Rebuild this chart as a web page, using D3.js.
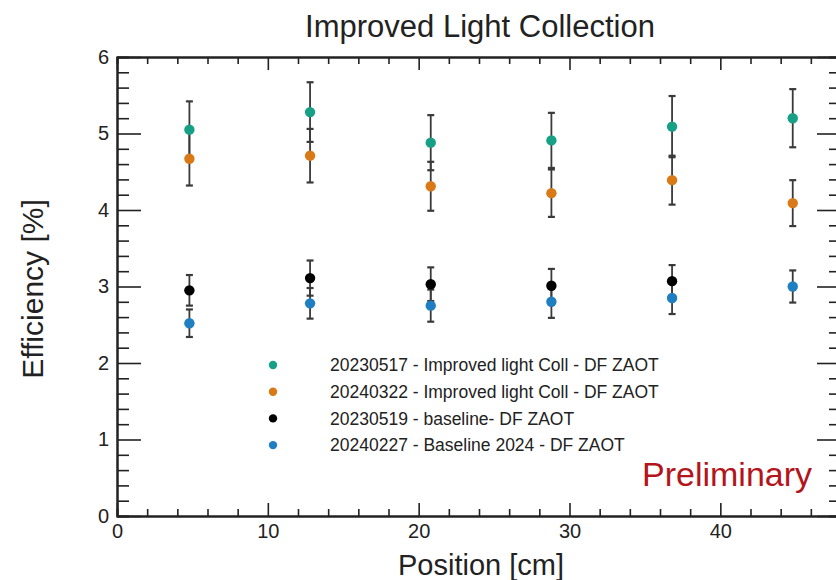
<!DOCTYPE html>
<html lang="en">

<head>
    <meta charset="UTF-8">
    <title>Improved Light Collection</title>
    <script src="https://d3js.org/d3.v7.min.js"></script>
    <style>
        body {
            margin: 0;
            background: #fff;
        }

        svg {
            display: block;
            font-family: "Liberation Sans", Arial, Helvetica, sans-serif;
        }

        .axis path {
            stroke: #222;
            stroke-width: 2;
        }

        .axis line {
            stroke: #222;
            stroke-width: 1.6;
        }

        .axis text {
            font-size: 20px;
            fill: #222;
        }
    </style>
</head>

<body>
    <script>
        // values
        var positions = [4.8, 12.8, 20.8, 28.8, 36.8, 44.8];
        var seriesNames = [
            '20230517 - Improved light Coll - DF ZAOT',
            '20240322 - Improved light Coll - DF ZAOT',
            '20230519 - baseline- DF ZAOT',
            '20240227 - Baseline 2024 - DF ZAOT'
        ];
        var seriesColors = ['#17a085', '#d97a17', '#000000', '#1f7fc0'];
        var improved2023 = [5.05, 5.28, 4.88, 4.91, 5.09, 5.20];
        var improved2023Err = [0.37, 0.39, 0.36, 0.36, 0.40, 0.38];
        var improved2024 = [4.67, 4.71, 4.31, 4.22, 4.39, 4.09];
        var improved2024Err = [0.35, 0.35, 0.32, 0.31, 0.32, 0.30];
        var baseline2023 = [2.95, 3.11, 3.03, 3.01, 3.07];
        var baseline2023Err = [0.20, 0.23, 0.22, 0.22, 0.21];
        var baseline2024 = [2.52, 2.78, 2.75, 2.80, 2.85, 3.00];
        var baseline2024Err = [0.18, 0.20, 0.21, 0.21, 0.21, 0.21];
        var xMajor = [0, 10, 20, 30, 40];
        var yMajor = [0, 1, 2, 3, 4, 5, 6];

        var width = 836;
        var height = 580;
        // plot frame edges (the right edge sits just past the window)
        var frameLeft = 117, frameRight = 841, frameTop = 57, frameBottom = 516;

        var svg = d3.select('body')
            .append('svg')
            .attr('width', width)
            .attr('height', height);

        var x = d3.scaleLinear().domain([0, 48]).range([frameLeft, frameRight]);
        var y = d3.scaleLinear().domain([0, 6]).range([frameBottom, frameTop]);

        var xMinor = d3.range(0, 48.01, 2).filter(function (v) { return v % 10 != 0; });
        var yMinor = d3.range(0, 6.01, 0.2).map(function (v) { return +v.toFixed(1); })
            .filter(function (v) { return Math.abs(v - Math.round(v)) > 0.01; });

        // frame with ticks pointing inward on all four sides
        function drawAxis(axisFn, scale, major, minor, majorLen, minorLen, labels, transform) {
            svg.append('g').attr('class', 'axis').attr('transform', transform)
                .call(axisFn(scale).tickValues(minor).tickSize(-minorLen).tickFormat(''));
            return svg.append('g').attr('class', 'axis').attr('transform', transform)
                .call(axisFn(scale).tickValues(major).tickSize(-majorLen).tickSizeOuter(0)
                    .tickPadding(8).tickFormat(labels ? d3.format('d') : ''));
        }

        drawAxis(d3.axisBottom, x, xMajor, xMinor, 13, 7, true, 'translate(0,' + frameBottom + ')');
        drawAxis(d3.axisTop, x, xMajor, xMinor, 13, 7, false, 'translate(0,' + frameTop + ')');
        drawAxis(d3.axisLeft, y, yMajor, yMinor, 24, 12, true, 'translate(' + frameLeft + ',0)');
        drawAxis(d3.axisRight, y, yMajor, yMinor, 24, 12, false, 'translate(' + frameRight + ',0)');

        // titles
        svg.append('text')
            .attr('x', 480)
            .attr('y', 37)
            .attr('text-anchor', 'middle')
            .attr('font-size', 31)
            .attr('fill', '#222')
            .text('Improved Light Collection');

        svg.append('text')
            .attr('x', 481)
            .attr('y', 575)
            .attr('text-anchor', 'middle')
            .attr('font-size', 29)
            .attr('fill', '#222')
            .text('Position [cm]');

        svg.append('text')
            .attr('transform', 'translate(43,289) rotate(-90)')
            .attr('text-anchor', 'middle')
            .attr('font-size', 30)
            .attr('fill', '#222')
            .text('Efficiency [%]');

        var allSeries = [
            { vals: improved2023, errs: improved2023Err },
            { vals: improved2024, errs: improved2024Err },
            { vals: baseline2023, errs: baseline2023Err },
            { vals: baseline2024, errs: baseline2024Err }
        ];

        var points = [];
        allSeries.forEach(function (s, i) {
            s.vals.forEach(function (v, j) {
                points.push({ pos: positions[j], val: v, err: s.errs[j], color: seriesColors[i] });
            });
        });

        // error bars first, markers on top
        var bars = svg.append('g').attr('stroke', '#3a3a3a').attr('stroke-width', 1.8);
        bars.selectAll('line.bar')
            .data(points)
            .enter()
            .append('line')
            .attr('x1', function (d) { return x(d.pos); })
            .attr('x2', function (d) { return x(d.pos); })
            .attr('y1', function (d) { return y(d.val - d.err); })
            .attr('y2', function (d) { return y(d.val + d.err); });

        var caps = [];
        points.forEach(function (d) {
            caps.push({ pos: d.pos, v: d.val - d.err });
            caps.push({ pos: d.pos, v: d.val + d.err });
        });
        bars.selectAll('line.cap')
            .data(caps)
            .enter()
            .append('line')
            .attr('x1', function (d) { return x(d.pos) - 3.5; })
            .attr('x2', function (d) { return x(d.pos) + 3.5; })
            .attr('y1', function (d) { return y(d.v); })
            .attr('y2', function (d) { return y(d.v); })
            .attr('stroke-width', 2.2);

        svg.append('g')
            .selectAll('circle')
            .data(points)
            .enter()
            .append('circle')
            .attr('cx', function (d) { return x(d.pos); })
            .attr('cy', function (d) { return y(d.val); })
            .attr('r', 5.2)
            .attr('fill', function (d) { return d.color; });

        // legend
        var rows = svg.append('g').selectAll('g')
            .data(seriesNames)
            .enter()
            .append('g')
            .attr('transform', function (d, i) { return 'translate(0,' + (365 + i * 26.7) + ')'; });
        rows.append('circle')
            .attr('cx', 273)
            .attr('cy', 0)
            .attr('r', 4.2)
            .attr('fill', function (d, i) { return seriesColors[i]; });
        rows.append('text')
            .attr('x', 330)
            .attr('y', 0)
            .attr('dy', '0.35em')
            .attr('font-size', 17.5)
            .attr('fill', '#222')
            .text(function (d) { return d; });

        svg.append('text')
            .attr('x', 642)
            .attr('y', 486)
            .attr('font-size', 34)
            .attr('fill', '#b3151b')
            .text('Preliminary');
    </script>
</body>

</html>
